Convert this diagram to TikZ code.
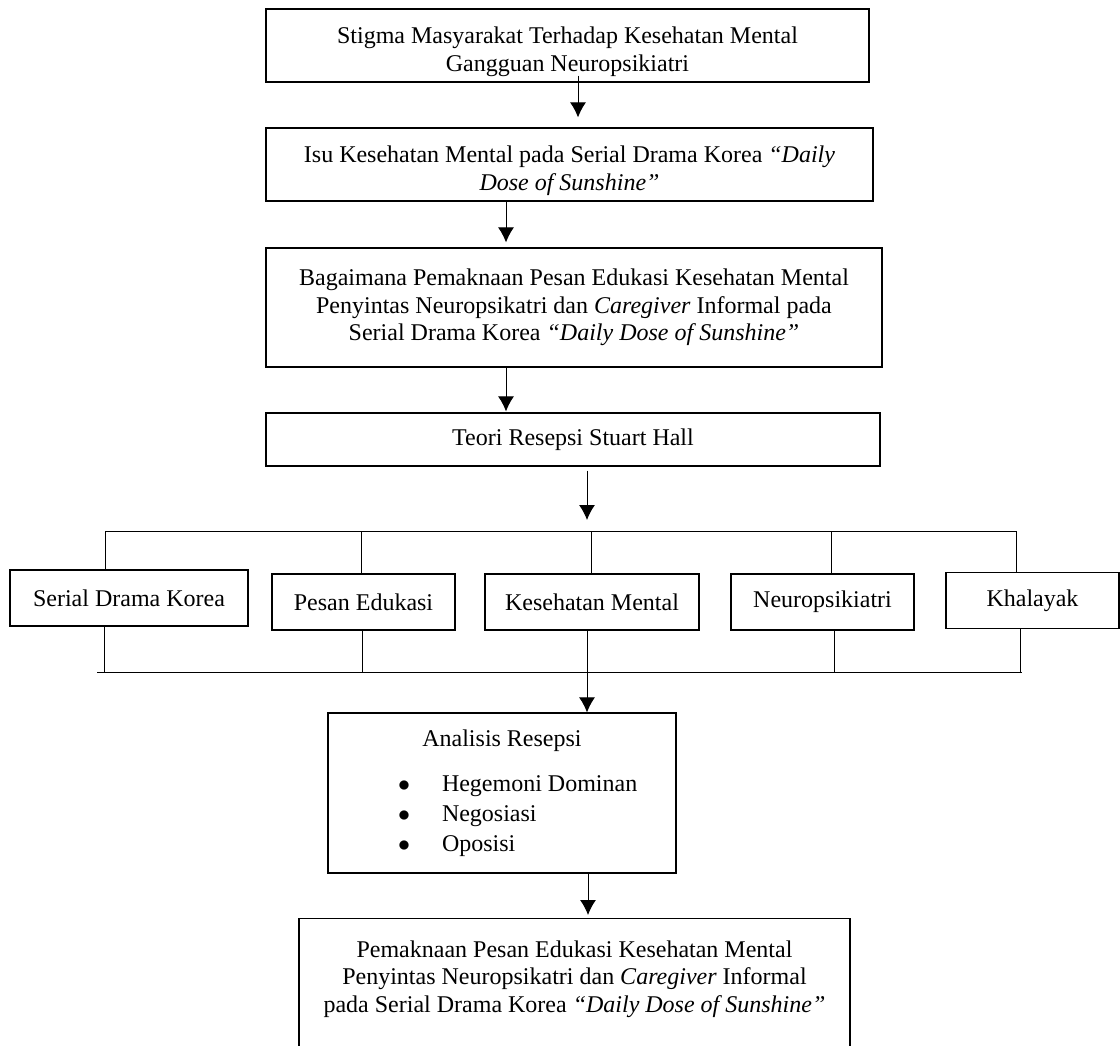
\documentclass[tikz,border=0pt]{standalone}
\usepackage{fontspec}
\setmainfont{Liberation Serif}
\usetikzlibrary{arrows.meta}
\tikzset{%
  >={Latex[width=8pt,length=7.5pt]},
  % Specifications for style of nodes:
        box/.style = {rectangle, draw=black, line width=0.6pt,
                      inner sep=2pt, align=center,
                      font=\fontsize{12pt}{13.8pt}\selectfont},
     rowbox/.style = {box, minimum height=28pt},
       link/.style = {line width=0.5pt},
}

\begin{document}
\begin{tikzpicture}[x=0.5pt, y=-0.5pt]
  \useasboundingbox (0,0) rectangle (1120,1045);
  \clip (0,0) rectangle (1120,1045);
  % Specification of nodes (position, etc.)
  \node (stigma)    [box, minimum width=301.5pt, minimum height=36.5pt] at (567.5,45.5)
        {\rule{0pt}{14.5pt}Stigma Masyarakat Terhadap Kesehatan Mental\\Gangguan Neuropsikiatri};
  \node (isu)       [box, minimum width=303.5pt, minimum height=36.5pt] at (569.5,164.5)
        {\rule{0pt}{14.5pt}Isu Kesehatan Mental pada Serial Drama Korea \textit{“Daily}\\\textit{Dose of Sunshine”}};
  \node (rumusan)   [box, minimum width=308pt, minimum height=59.5pt] at (574,307.5)
        {Bagaimana Pemaknaan Pesan Edukasi Kesehatan Mental\\
         Penyintas Neuropsikatri dan \textit{Caregiver} Informal pada\\
         Serial Drama Korea \textit{“Daily Dose of Sunshine”}};
  \node (teori)     [box, minimum width=307pt, minimum height=26.5pt] at (573,439.5)
        {Teori Resepsi Stuart Hall};

  \node (serial)    [rowbox, minimum width=119pt]  at (129,598)      {Serial Drama Korea};
  \node (pesan)     [rowbox, minimum width=91.5pt] at (363.5,602)    {Pesan Edukasi};
  \node (kesehatan) [rowbox, minimum width=107pt]  at (592,602)      {Kesehatan Mental};
  \node (neuro)     [rowbox, minimum width=91.5pt] at (822.5,602)    {Neuropsikiatri};
  \node (khalayak)  [rowbox, minimum width=86.5pt] at (1032.5,600.5) {Khalayak};

  \node (analisis)  [box, minimum width=174pt, minimum height=80pt] at (502,793)
        {Analisis Resepsi\\[8.7pt]
         \hspace*{16pt}\makebox[120pt][l]{$\bullet$\hspace{16pt}Hegemoni Dominan}\\[1.2pt]
         \hspace*{16pt}\makebox[120pt][l]{$\bullet$\hspace{16pt}Negosiasi}\\[1.2pt]
         \hspace*{16pt}\makebox[120pt][l]{$\bullet$\hspace{16pt}Oposisi}};

  \node (pemaknaan) [box, anchor=north, minimum width=275.5pt, inner ysep=11pt] at (574.5,918)
        {Pemaknaan Pesan Edukasi Kesehatan Mental\\
         Penyintas Neuropsikatri dan \textit{Caregiver} Informal\\
         pada Serial Drama Korea \textit{“Daily Dose of Sunshine”}\\[40pt]\mbox{}};

  % Lines of the split and the join
  \coordinate (topL) at (105,531);
  \coordinate (topR) at (1016,531);
  \coordinate (botL) at (97,672);
  \coordinate (botR) at (1022,672);

  \draw[->, link, shorten <=-3.5pt, shorten >=5pt] (stigma.south -| 578,0) -- (isu.north -| 578,0);
  \draw[->, link, shorten >=2.5pt] (isu.south -| 506,0)     -- (rumusan.north -| 506,0);
  \draw[->, link, shorten >=0.5pt] (rumusan.south -| 506,0) -- (teori.north -| 506,0);
  \draw[->, link, shorten <=2pt, shorten >=5.5pt] (teori.south -| 587,0) -- (topL -| 587,0);

  \draw[link] (topL) -- (topR);
  \foreach \pos/\blk in {105/serial, 361/pesan, 591/kesehatan, 831/neuro, 1016/khalayak}
    \draw[link] (topL -| \pos,0) -- (\blk.north -| \pos,0);
  \foreach \pos/\blk in {104/serial, 362/pesan, 834/neuro, 1020/khalayak}
    \draw[link] (\blk.south -| \pos,0) -- (botL -| \pos,0);
  \draw[link] (botL) -- (botR);

  \draw[->, link]                  (kesehatan.south -| 587,0) -- (analisis.north -| 587,0);
  \draw[->, link, shorten >=1.5pt] (analisis.south -| 588,0)  -- (pemaknaan.north -| 588,0);
\end{tikzpicture}
\end{document}
